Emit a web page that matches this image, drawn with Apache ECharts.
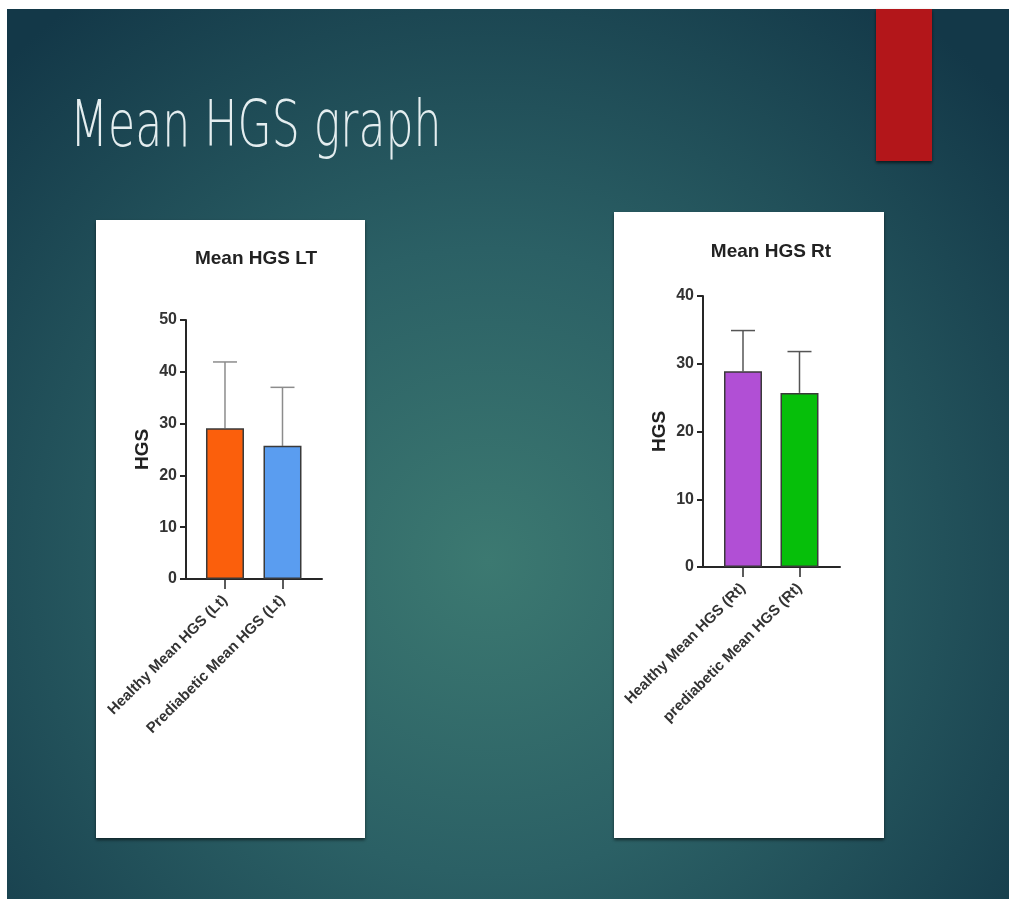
<!DOCTYPE html>
<html>
<head>
<meta charset="utf-8">
<script src="https://cdn.jsdelivr.net/npm/echarts@6/dist/echarts.min.js"></script>
<style>
  html, body { margin: 0; padding: 0; background: #fff; }
  #main { width: 1009px; height: 903px; }
</style>
</head>
<body>
<div id="main"></div>
<script>
// left chart (Lt)
const catsLt = ['Healthy Mean HGS (Lt)', 'Prediabetic Mean HGS (Lt)'];
const meanLt = [29.1, 25.7];
const sdLt = [12.8, 11.3];
const colorsLt = ['#fb5f0c', '#5a9df0'];
const yTicksLt = [0, 50, 10];

// right chart (Rt)
const catsRt = ['Healthy Mean HGS (Rt)', 'prediabetic Mean HGS (Rt)'];
const meanRt = [28.9, 25.7];
const sdRt = [6.0, 6.1];
const colorsRt = ['#b14fd5', '#06bf0a'];
const yTicksRt = [0, 40, 10];

var chartDom = document.getElementById('main');
var myChart = echarts.init(chartDom, null, { renderer: 'canvas' });

const axisFont = '"Liberation Sans", Arial, sans-serif';
const ink = '#262626';

function xAxisFor(idx, cats, min, max) {
  return {
    type: 'value',
    gridIndex: idx,
    min: min,
    max: max,
    splitLine: { show: false },
    axisLine: { show: true, onZero: false, lineStyle: { color: ink, width: 2 } },
    axisTick: { show: true, customValues: [0, 1], length: 10, lineStyle: { color: ink, width: 1.5 } },
    axisLabel: {
      customValues: [0, 1],
      rotate: 45,
      margin: 19,
      color: '#333',
      fontFamily: axisFont,
      fontWeight: 'bold',
      fontSize: 15,
      formatter: (v) => cats[Math.round(v)]
    }
  };
}

function yAxisFor(idx, ticks) {
  return {
    type: 'value',
    gridIndex: idx,
    min: ticks[0],
    max: ticks[1],
    interval: ticks[2],
    name: 'HGS',
    nameLocation: 'middle',
    nameGap: 34,
    nameRotate: 90,
    nameTextStyle: { color: '#222', fontFamily: axisFont, fontWeight: 'bold', fontSize: 19 },
    splitLine: { show: false },
    axisLine: { show: true, onZero: false, lineStyle: { color: ink, width: 2 } },
    axisTick: { show: true, length: 6, lineStyle: { color: ink, width: 2 } },
    axisLabel: { margin: 9, color: '#333', fontFamily: axisFont, fontWeight: 'bold', fontSize: 16 }
  };
}

function barSeries(idx, means, colors) {
  return {
    type: 'bar',
    xAxisIndex: idx,
    yAxisIndex: idx,
    barWidth: 38,
    z: 3,
    data: means.map((m, i) => ({
      value: [i, m],
      itemStyle: { color: colors[i], borderColor: '#3a3a3a', borderWidth: 1.5 }
    }))
  };
}

function errSeries(idx, means, sds, color) {
  return {
    type: 'custom',
    xAxisIndex: idx,
    yAxisIndex: idx,
    z: 2,
    data: means.map((m, i) => [i, m, sds[i]]),
    renderItem: function (params, api) {
      var x = api.value(0), m = api.value(1), e = api.value(2);
      var p0 = api.coord([x, m]);
      var p1 = api.coord([x, m + e]);
      var st = { stroke: color, lineWidth: 1.5 };
      return {
        type: 'group',
        children: [
          { type: 'line', shape: { x1: p0[0], y1: p0[1], x2: p1[0], y2: p1[1] }, style: st },
          { type: 'line', shape: { x1: p1[0] - 12, y1: p1[1], x2: p1[0] + 12, y2: p1[1] }, style: st }
        ]
      };
    }
  };
}

var option = {
  animation: false,
  graphic: [
    {
      type: 'rect', z: -10, silent: true,
      shape: { x: 7, y: 9, width: 1002, height: 890 },
      style: {
        fill: {
          type: 'radial', x: 0.48, y: 0.62, r: 0.78,
          colorStops: [
            { offset: 0, color: '#3c7971' },
            { offset: 0.45, color: '#2b6065' },
            { offset: 1, color: '#133848' }
          ]
        }
      }
    },
    {
      type: 'rect', z: -9, silent: true,
      shape: { x: 876, y: 9, width: 56, height: 152 },
      style: { fill: '#b3161a', shadowBlur: 3, shadowOffsetY: 2, shadowColor: 'rgba(0,0,0,0.6)' }
    },
    {
      type: 'text', z: -8, silent: true,
      x: 70, y: 97, scaleX: 0.69,
      style: {
        text: 'Mean HGS graph',
        x: 0, y: 0,
        verticalAlign: 'top',
        fill: '#e4edef',
        font: '200 64px "DejaVu Sans", Lato, sans-serif'
      }
    },
    {
      type: 'rect', z: -9, silent: true,
      shape: { x: 96, y: 220, width: 269, height: 618 },
      style: { fill: '#fff', shadowBlur: 3, shadowOffsetY: 2, shadowColor: 'rgba(0,0,0,0.55)' }
    },
    {
      type: 'rect', z: -9, silent: true,
      shape: { x: 614, y: 212, width: 270, height: 626 },
      style: { fill: '#fff', shadowBlur: 3, shadowOffsetY: 2, shadowColor: 'rgba(0,0,0,0.55)' }
    }
  ],
  title: [
    {
      text: 'Mean HGS LT', left: 251, top: 244, textAlign: 'center',
      textStyle: { color: '#222', fontFamily: axisFont, fontWeight: 'bold', fontSize: 19 }
    },
    {
      text: 'Mean HGS Rt', left: 766, top: 237, textAlign: 'center',
      textStyle: { color: '#222', fontFamily: axisFont, fontWeight: 'bold', fontSize: 19 }
    }
  ],
  grid: [
    { left: 186, top: 320, width: 136, height: 259 },
    { left: 703, top: 296, width: 137, height: 271 }
  ],
  xAxis: [
    xAxisFor(0, catsLt, -0.678, 1.687),
    xAxisFor(1, catsRt, -0.708, 1.717)
  ],
  yAxis: [yAxisFor(0, yTicksLt), yAxisFor(1, yTicksRt)],
  series: [
    barSeries(0, meanLt, colorsLt),
    errSeries(0, meanLt, sdLt, '#8c8c8c'),
    barSeries(1, meanRt, colorsRt),
    errSeries(1, meanRt, sdRt, '#555')
  ]
};

option && myChart.setOption(option);
</script>
</body>
</html>
